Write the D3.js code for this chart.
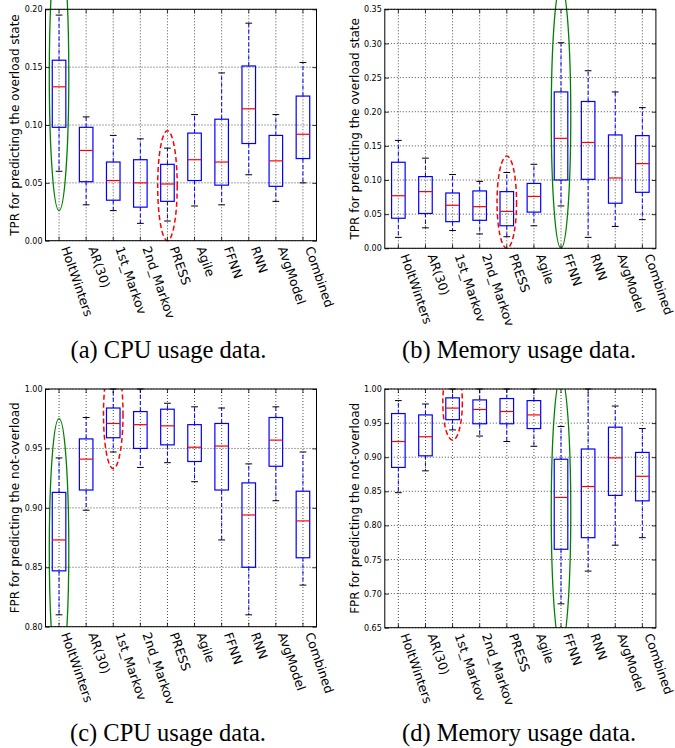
<!DOCTYPE html>
<html>
<head>
<meta charset="utf-8">
<script src="https://cdn.jsdelivr.net/npm/d3@7"></script>
<style>
  html, body { margin: 0; padding: 0; background: #fff; }
  svg { display: block; }
</style>
</head>
<body>
<script>
// Prediction methods compared in every panel
const methods = ["HoltWinters", "AR(30)", "1st_Markov", "2nd_Markov", "PRESS",
                 "Agile", "FFNN", "RNN", "AvgModel", "Combined"];

// (a) CPU, TPR for the overload state: whisker low, Q1, median, Q3, whisker high
const cpuTprLow  = [0.060, 0.031, 0.026, 0.015, 0.017, 0.030, 0.031, 0.057, 0.034, 0.050];
const cpuTprQ1   = [0.098, 0.051, 0.035, 0.029, 0.034, 0.052, 0.048, 0.084, 0.047, 0.071];
const cpuTprMed  = [0.133, 0.078, 0.052, 0.050, 0.049, 0.070, 0.068, 0.114, 0.069, 0.092];
const cpuTprQ3   = [0.156, 0.098, 0.068, 0.070, 0.066, 0.093, 0.105, 0.151, 0.091, 0.125];
const cpuTprHigh = [0.195, 0.107, 0.091, 0.088, 0.080, 0.109, 0.145, 0.188, 0.109, 0.154];

// (b) Memory, TPR for the overload state
const memTprLow  = [0.016, 0.030, 0.026, 0.021, 0.017, 0.033, 0.062, 0.016, 0.032, 0.042];
const memTprQ1   = [0.044, 0.051, 0.039, 0.041, 0.033, 0.053, 0.100, 0.101, 0.066, 0.082];
const memTprMed  = [0.077, 0.083, 0.063, 0.061, 0.054, 0.076, 0.161, 0.155, 0.103, 0.124];
const memTprQ3   = [0.126, 0.105, 0.081, 0.084, 0.083, 0.095, 0.229, 0.215, 0.166, 0.165];
const memTprHigh = [0.158, 0.132, 0.108, 0.098, 0.111, 0.123, 0.301, 0.260, 0.229, 0.206];

// (c) CPU, FPR for the not-overload state
const cpuFprLow  = [0.810, 0.898, 0.947, 0.934, 0.938, 0.922, 0.873, 0.810, 0.906, 0.835];
const cpuFprQ1   = [0.847, 0.915, 0.959, 0.950, 0.953, 0.939, 0.915, 0.850, 0.935, 0.858];
const cpuFprMed  = [0.873, 0.941, 0.971, 0.970, 0.969, 0.951, 0.952, 0.894, 0.957, 0.889];
const cpuFprQ3   = [0.913, 0.958, 0.984, 0.981, 0.983, 0.970, 0.971, 0.921, 0.976, 0.914];
const cpuFprHigh = [0.942, 0.976, 1.000, 1.000, 0.988, 0.985, 0.984, 0.937, 0.985, 0.947];

// (d) Memory, FPR for the not-overload state
const memFprLow  = [0.848, 0.880, 0.940, 0.931, 0.923, 0.916, 0.685, 0.733, 0.771, 0.782];
const memFprQ1   = [0.885, 0.902, 0.955, 0.949, 0.949, 0.942, 0.765, 0.782, 0.844, 0.836];
const memFprMed  = [0.923, 0.930, 0.972, 0.970, 0.967, 0.962, 0.841, 0.857, 0.899, 0.872];
const memFprQ3   = [0.964, 0.962, 0.987, 0.984, 0.986, 0.983, 0.897, 0.912, 0.944, 0.907];
const memFprHigh = [0.983, 0.978, 1.000, 1.000, 1.000, 1.000, 0.945, 1.000, 0.975, 0.942];

// Y tick values per panel
const cpuTprTicks = [0.00, 0.05, 0.10, 0.15, 0.20];
const memTprTicks = [0.00, 0.05, 0.10, 0.15, 0.20, 0.25, 0.30, 0.35];
const cpuFprTicks = [0.80, 0.85, 0.90, 0.95, 1.00];
const memFprTicks = [0.65, 0.70, 0.75, 0.80, 0.85, 0.90, 0.95, 1.00];

// Highlighted methods: best (red dashed) and worst (green) with value extent of the ring
const cpuTprRings = [{ method: "HoltWinters", lo: 0.026, hi: 0.261, kind: "worst" },
                     { method: "PRESS",       lo: 0.000, hi: 0.095, kind: "best" }];
const memTprRings = [{ method: "FFNN",        lo: 0.000, hi: 0.385, kind: "worst" },
                     { method: "PRESS",       lo: 0.000, hi: 0.135, kind: "best" }];
const cpuFprRings = [{ method: "HoltWinters", lo: 0.755, hi: 0.975, kind: "worst" },
                     { method: "1st_Markov",  lo: 0.933, hi: 1.025, kind: "best" }];
const memFprRings = [{ method: "FFNN",        lo: 0.623, hi: 1.017, kind: "worst" },
                     { method: "1st_Markov",  lo: 0.925, hi: 1.035, kind: "best" }];

const panels = [
  { low: cpuTprLow, q1: cpuTprQ1, med: cpuTprMed, q3: cpuTprQ3, high: cpuTprHigh,
    ticks: cpuTprTicks, rings: cpuTprRings, domain: [0, 0.20],
    ylabel: "TPR for predicting the overload state", caption: "(a) CPU usage data.",
    left: 45.5, right: 316.5, top: 9.3, bottom: 240.7, labelX: 19, capX: 168.5, capY: 358, clipRings: false },
  { low: memTprLow, q1: memTprQ1, med: memTprMed, q3: memTprQ3, high: memTprHigh,
    ticks: memTprTicks, rings: memTprRings, domain: [0, 0.35],
    ylabel: "TPR for predicting the overload state", caption: "(b) Memory usage data.",
    left: 384.8, right: 655.9, top: 9.3, bottom: 248.3, labelX: 358.5, capX: 519, capY: 358, clipRings: false },
  { low: cpuFprLow, q1: cpuFprQ1, med: cpuFprMed, q3: cpuFprQ3, high: cpuFprHigh,
    ticks: cpuFprTicks, rings: cpuFprRings, domain: [0.80, 1.00],
    ylabel: "FPR for predicting the not-overload", caption: "(c) CPU usage data.",
    left: 45.5, right: 316.5, top: 389, bottom: 626.7, labelX: 18.5, capX: 168, capY: 741, clipRings: true },
  { low: memFprLow, q1: memFprQ1, med: memFprMed, q3: memFprQ3, high: memFprHigh,
    ticks: memFprTicks, rings: memFprRings, domain: [0.65, 1.00],
    ylabel: "FPR for predicting the not-overload", caption: "(d) Memory usage data.",
    left: 384.8, right: 655.9, top: 389, bottom: 627.7, labelX: 358.8, capX: 519, capY: 741, clipRings: true }
];

const svg = d3.select("body").append("svg")
  .attr("width", 675).attr("height", 748);

const sans = "'DejaVu Sans', 'Bitstream Vera Sans', sans-serif";
const serif = "'Liberation Serif', 'Times New Roman', serif";

panels.forEach((p, pi) => {
  const x = d3.scaleBand().domain(methods).range([p.left, p.right]).padding(0);
  const step = x.bandwidth();
  const cx = m => x(m) + step / 2;
  const y = d3.scaleLinear().domain(p.domain).range([p.bottom, p.top]);
  const g = svg.append("g");
  const fmt = d3.format(".2f");

  // dotted grid
  g.append("g").selectAll("line.hg").data(p.ticks).join("line")
    .attr("x1", p.left).attr("x2", p.right)
    .attr("y1", d => y(d)).attr("y2", d => y(d))
    .attr("stroke", "#000").attr("stroke-width", 0.7).attr("stroke-dasharray", "1,2");
  g.append("g").selectAll("line.vg").data(methods).join("line")
    .attr("x1", cx).attr("x2", cx)
    .attr("y1", p.top).attr("y2", p.bottom)
    .attr("stroke", "#000").attr("stroke-width", 0.7).attr("stroke-dasharray", "1,2");

  const rows = methods.map((m, i) => ({ m, low: p.low[i], q1: p.q1[i], med: p.med[i], q3: p.q3[i], high: p.high[i] }));
  const boxHalf = step * 0.25;
  const capHalf = step * 0.125;

  // whiskers
  const wk = g.append("g");
  wk.selectAll("line.wu").data(rows).join("line")
    .attr("x1", d => cx(d.m)).attr("x2", d => cx(d.m))
    .attr("y1", d => y(d.q3)).attr("y2", d => y(d.high))
    .attr("stroke", "#0000ff").attr("stroke-width", 1).attr("stroke-dasharray", "4,2.5");
  wk.selectAll("line.wl").data(rows).join("line")
    .attr("x1", d => cx(d.m)).attr("x2", d => cx(d.m))
    .attr("y1", d => y(d.q1)).attr("y2", d => y(d.low))
    .attr("stroke", "#0000ff").attr("stroke-width", 1).attr("stroke-dasharray", "4,2.5");

  // caps
  ["low", "high"].forEach(k => {
    g.append("g").selectAll("line").data(rows).join("line")
      .attr("x1", d => cx(d.m) - capHalf).attr("x2", d => cx(d.m) + capHalf)
      .attr("y1", d => y(d[k])).attr("y2", d => y(d[k]))
      .attr("stroke", "#000").attr("stroke-width", 1);
  });

  // boxes
  g.append("g").selectAll("rect").data(rows).join("rect")
    .attr("x", d => cx(d.m) - boxHalf).attr("width", boxHalf * 2)
    .attr("y", d => y(d.q3)).attr("height", d => y(d.q1) - y(d.q3))
    .attr("fill", "none").attr("stroke", "#0000ff").attr("stroke-width", 1.2);

  // medians
  g.append("g").selectAll("line").data(rows).join("line")
    .attr("x1", d => cx(d.m) - boxHalf).attr("x2", d => cx(d.m) + boxHalf)
    .attr("y1", d => y(d.med)).attr("y2", d => y(d.med))
    .attr("stroke", "#ff0000").attr("stroke-width", 1.2);

  // rings around the best and worst methods
  const clipId = "clip" + pi;
  svg.append("clipPath").attr("id", clipId).append("rect")
    .attr("x", p.left).attr("width", p.right - p.left)
    .attr("y", p.top).attr("height", p.bottom - p.top);
  const rg = g.append("g");
  if (p.clipRings) rg.attr("clip-path", `url(#${clipId})`);
  rg.selectAll("ellipse").data(p.rings).join("ellipse")
    .attr("cx", d => cx(d.method))
    .attr("cy", d => (y(d.lo) + y(d.hi)) / 2)
    .attr("rx", step * 0.36)
    .attr("ry", d => (y(d.lo) - y(d.hi)) / 2)
    .attr("fill", "none")
    .attr("stroke", d => d.kind === "best" ? "#ff0000" : "#008000")
    .attr("stroke-width", d => d.kind === "best" ? 1.5 : 1.3)
    .attr("stroke-dasharray", d => d.kind === "best" ? "5,3" : null);

  // axes with inward ticks on all four sides
  const yl = g.append("g").attr("transform", `translate(${p.left},0)`)
    .call(d3.axisLeft(y).tickValues(p.ticks).tickFormat(fmt).tickSize(-4).tickPadding(3));
  const yr = g.append("g").attr("transform", `translate(${p.right},0)`)
    .call(d3.axisRight(y).tickValues(p.ticks).tickFormat("").tickSize(-4));
  const xt = g.append("g").attr("transform", `translate(0,${p.top})`)
    .call(d3.axisTop(x).tickFormat("").tickSize(-4));
  const xb = g.append("g").attr("transform", `translate(0,${p.bottom})`)
    .call(d3.axisBottom(x).tickSize(-4));
  [yl, yr, xt, xb].forEach(a => {
    a.select(".domain").remove();
    a.selectAll(".tick line").attr("stroke", "#000").attr("stroke-width", 0.8);
  });
  yl.selectAll("text").attr("font-family", sans).attr("font-size", 8).attr("fill", "#000");
  xb.selectAll("text")
    .attr("x", 0).attr("y", 0).attr("dy", 0)
    .attr("transform", "translate(2,7.5) rotate(71)")
    .attr("text-anchor", "start")
    .attr("font-family", sans).attr("font-size", 12.5).attr("fill", "#000");

  // frame
  g.append("rect")
    .attr("x", p.left).attr("y", p.top)
    .attr("width", p.right - p.left).attr("height", p.bottom - p.top)
    .attr("fill", "none").attr("stroke", "#000").attr("stroke-width", 1);

  // y-axis title
  g.append("text")
    .attr("transform", `translate(${p.labelX},${(p.top + p.bottom) / 2}) rotate(-90)`)
    .attr("text-anchor", "middle")
    .attr("font-family", sans).attr("font-size", 12).attr("fill", "#000")
    .text(p.ylabel);

  // caption
  g.append("text")
    .attr("x", p.capX).attr("y", p.capY)
    .attr("text-anchor", "middle")
    .attr("font-family", serif).attr("font-size", 24.5).attr("fill", "#000")
    .text(p.caption);
});
</script>
</body>
</html>
